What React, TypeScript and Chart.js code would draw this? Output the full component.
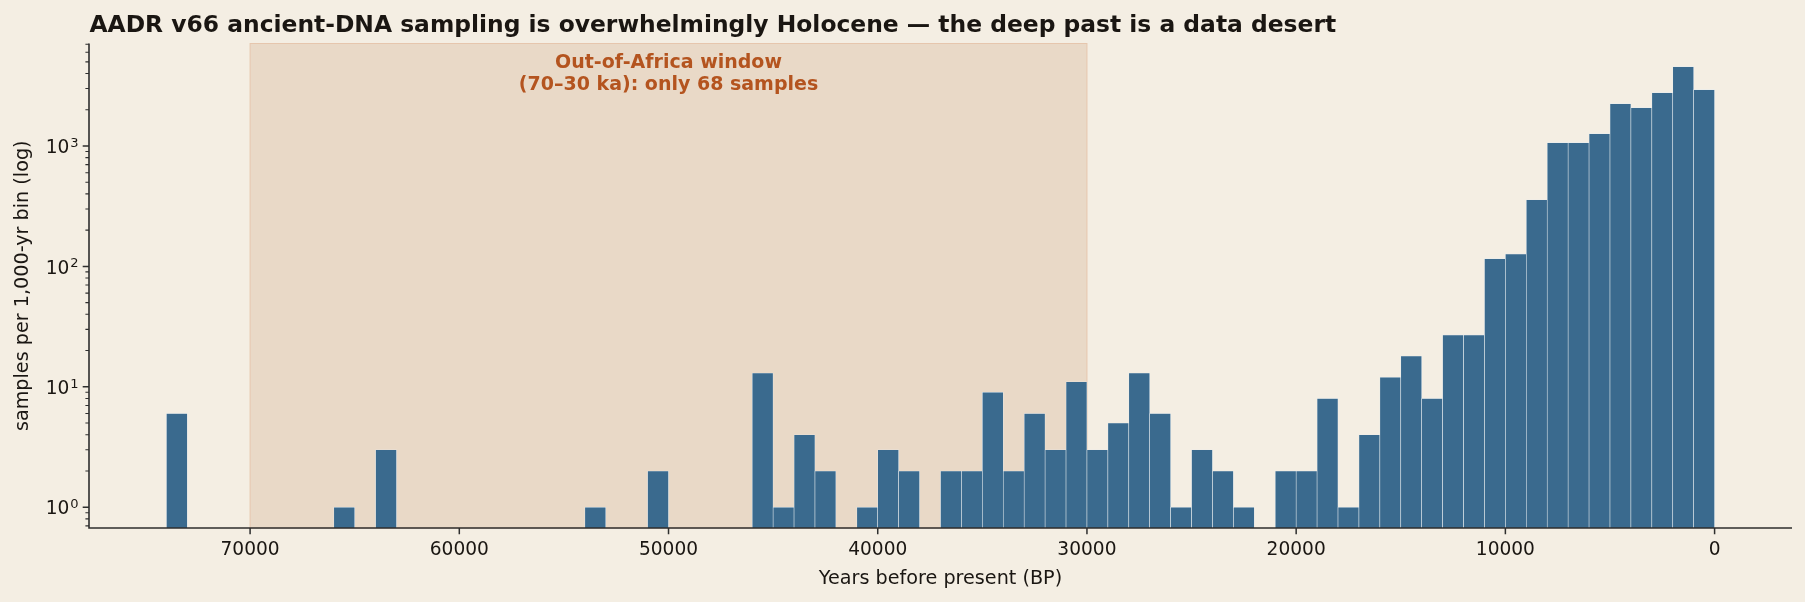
import React, { useEffect, useRef } from 'react';
import { Chart, registerables } from 'chart.js';

Chart.register(...registerables);

// Older edge (years BP) of each non-empty 1,000-year bin, and its sample count.
const binStartBP = [
  74000, 66000, 64000, 54000, 51000, 46000, 45000, 44000, 43000, 41000, 40000, 39000,
  37000, 36000, 35000, 34000, 33000, 32000, 31000, 30000, 29000, 28000, 27000, 26000,
  25000, 24000, 23000, 21000, 20000, 19000, 18000, 17000, 16000, 15000, 14000, 13000,
  12000, 11000, 10000, 9000, 8000, 7000, 6000, 5000, 4000, 3000, 2000, 1000,
];
const samplesPerBin = [
  6, 1, 3, 1, 2, 13, 1, 4, 2, 1, 3, 2,
  2, 2, 9, 2, 6, 3, 11, 3, 5, 13, 6, 1,
  3, 2, 1, 2, 2, 8, 1, 4, 12, 18, 8, 27,
  27, 116, 127, 358, 1065, 1065, 1265, 2246, 2080, 2773, 4558, 2936,
];
const BIN_WIDTH = 1000;

const xTickValues = [70000, 60000, 50000, 40000, 30000, 20000, 10000, 0];
const yTickValues = [1, 10, 100, 1000];

// Out-of-Africa window, years BP
const windowOlderBP = 70000;
const windowYoungerBP = 30000;
const windowLabelBP = 50000;
const windowLabelLines = ['Out-of-Africa window', '(70–30 ka): only 68 samples'];

const TITLE = 'AADR v66 ancient-DNA sampling is overwhelmingly Holocene — the deep past is a data desert';
const X_LABEL = 'Years before present (BP)';
const Y_LABEL = 'samples per 1,000-yr bin (log)';

const BG = '#f4eee3';
const BAR = '#3a6a8e';
const BAR_EDGE = '#e6ecef';
const SPAN_FILL = '#e9d9c7';
const SPAN_EDGE = '#e6c6ad';
const INK = '#1a1612';
const SPINE = '#2e2e2e';
const ACCENT = '#b4541f';
const FONT = '"DejaVu Sans", sans-serif';
const TICK_SIZE = 18.6;

const decorations = {
  id: 'decorations',
  beforeDraw(chart: any) {
    const ctx = chart.ctx;
    ctx.save();
    ctx.fillStyle = BG;
    ctx.fillRect(0, 0, chart.width, chart.height);
    ctx.restore();
  },
  beforeDatasetsDraw(chart: any) {
    const { ctx, chartArea, scales } = chart;
    const xa = scales.x.getPixelForValue(windowOlderBP);
    const xb = scales.x.getPixelForValue(windowYoungerBP);
    const left = Math.min(xa, xb);
    const w = Math.abs(xb - xa);
    ctx.save();
    ctx.fillStyle = SPAN_FILL;
    ctx.fillRect(left, chartArea.top, w, chartArea.bottom - chartArea.top);
    ctx.strokeStyle = SPAN_EDGE;
    ctx.lineWidth = 1;
    ctx.strokeRect(left, chartArea.top, w, chartArea.bottom - chartArea.top);
    ctx.restore();
  },
  afterDraw(chart: any) {
    const { ctx, chartArea, scales } = chart;
    const x = scales.x;
    const y = scales.y;
    ctx.save();

    // spines
    ctx.strokeStyle = SPINE;
    ctx.lineWidth = 1.6;
    ctx.beginPath();
    ctx.moveTo(chartArea.left, chartArea.top);
    ctx.lineTo(chartArea.left, chartArea.bottom);
    ctx.lineTo(chartArea.right, chartArea.bottom);
    ctx.stroke();

    // x major ticks
    ctx.lineWidth = 1.5;
    ctx.beginPath();
    for (const v of xTickValues) {
      const px = x.getPixelForValue(v);
      ctx.moveTo(px, chartArea.bottom);
      ctx.lineTo(px, chartArea.bottom + 6.3);
    }
    // y major ticks
    for (const v of yTickValues) {
      const py = y.getPixelForValue(v);
      ctx.moveTo(chartArea.left, py);
      ctx.lineTo(chartArea.left - 6.3, py);
    }
    ctx.stroke();

    // y minor ticks
    ctx.lineWidth = 1.1;
    ctx.beginPath();
    for (let k = -1; k <= 3; k++) {
      for (let m = 2; m <= 9; m++) {
        const v = m * Math.pow(10, k);
        if (v < y.min || v > y.max) continue;
        const py = y.getPixelForValue(v);
        ctx.moveTo(chartArea.left, py);
        ctx.lineTo(chartArea.left - 3.6, py);
      }
    }
    ctx.stroke();

    // y tick labels: base 10 with a raised exponent
    ctx.fillStyle = INK;
    ctx.textBaseline = 'alphabetic';
    const baseFont = `${TICK_SIZE}px ${FONT}`;
    const expFont = `${(TICK_SIZE * 0.7).toFixed(2)}px ${FONT}`;
    for (const v of yTickValues) {
      const py = y.getPixelForValue(v);
      const exp = String(Math.round(Math.log10(v)));
      const right = chartArea.left - 10.5;
      ctx.font = expFont;
      const ew = ctx.measureText(exp).width;
      ctx.textAlign = 'right';
      ctx.fillText(exp, right, py + 7.2 - 6.2);
      ctx.font = baseFont;
      ctx.fillText('10', right - ew - 0.8, py + 7.2);
    }

    // title
    ctx.fillStyle = INK;
    ctx.textAlign = 'left';
    ctx.textBaseline = 'alphabetic';
    ctx.font = `bold 23.4px ${FONT}`;
    ctx.fillText(TITLE, chartArea.left + 0.5, 32.3);

    // axis labels
    ctx.font = `19.2px ${FONT}`;
    ctx.textAlign = 'center';
    ctx.fillText(X_LABEL, (chartArea.left + chartArea.right) / 2, 584);
    ctx.save();
    ctx.translate(27.5, (chartArea.top + chartArea.bottom) / 2);
    ctx.rotate(-Math.PI / 2);
    ctx.fillText(Y_LABEL, 0, 0);
    ctx.restore();

    // window annotation
    ctx.fillStyle = ACCENT;
    ctx.font = `bold 19px ${FONT}`;
    const ax = x.getPixelForValue(windowLabelBP);
    ctx.fillText(windowLabelLines[0], ax, 67.7);
    ctx.fillText(windowLabelLines[1], ax, 90);

    ctx.restore();
  },
};

export default function App() {
  const canvasRef = useRef<HTMLCanvasElement | null>(null);

  useEffect(() => {
    document.body.style.margin = '0';
    document.body.style.background = BG;
    const canvas = canvasRef.current;
    if (!canvas) return;

    const points = binStartBP.map((start, i) => ({ x: start - BIN_WIDTH / 2, y: samplesPerBin[i] }));

    const chart = new Chart(canvas, {
      type: 'bar',
      data: {
        datasets: [
          {
            data: points,
            backgroundColor: BAR,
            borderColor: BAR_EDGE,
            borderWidth: 0.6,
            barPercentage: 1,
            categoryPercentage: 1,
          },
        ],
      },
      plugins: [decorations],
      options: {
        animation: false,
        responsive: false,
        devicePixelRatio: 1,
        events: [],
        layout: { padding: { top: 43.5, right: 13, left: 0, bottom: 0 } },
        plugins: {
          legend: { display: false },
          tooltip: { enabled: false },
          title: { display: false },
        },
        scales: {
          x: {
            type: 'linear',
            reverse: true,
            offset: false,
            min: -3700,
            max: 77700,
            afterFit(scale: any) {
              scale.height = 74;
            },
            afterBuildTicks(scale: any) {
              scale.ticks = xTickValues.map((v) => ({ value: v }));
            },
            grid: { display: true, offset: false, drawOnChartArea: false, drawTicks: true, tickLength: 6, color: 'rgba(0,0,0,0)' },
            border: { display: false },
            ticks: {
              autoSkip: false,
              maxRotation: 0,
              padding: 5.5,
              color: INK,
              font: { family: FONT, size: TICK_SIZE },
              callback: (v: any) => String(v),
            },
          },
          y: {
            type: 'logarithmic',
            min: 0.672,
            max: 7100,
            afterFit(scale: any) {
              scale.width = 89;
            },
            afterBuildTicks(scale: any) {
              scale.ticks = yTickValues.map((v) => ({ value: v, major: true }));
            },
            grid: { display: false },
            border: { display: false },
            ticks: { display: false },
          },
        },
      } as any,
    });

    return () => chart.destroy();
  }, []);

  return <canvas ref={canvasRef} width={1805} height={602} style={{ display: 'block', width: 1805, height: 602 }} />;
}
